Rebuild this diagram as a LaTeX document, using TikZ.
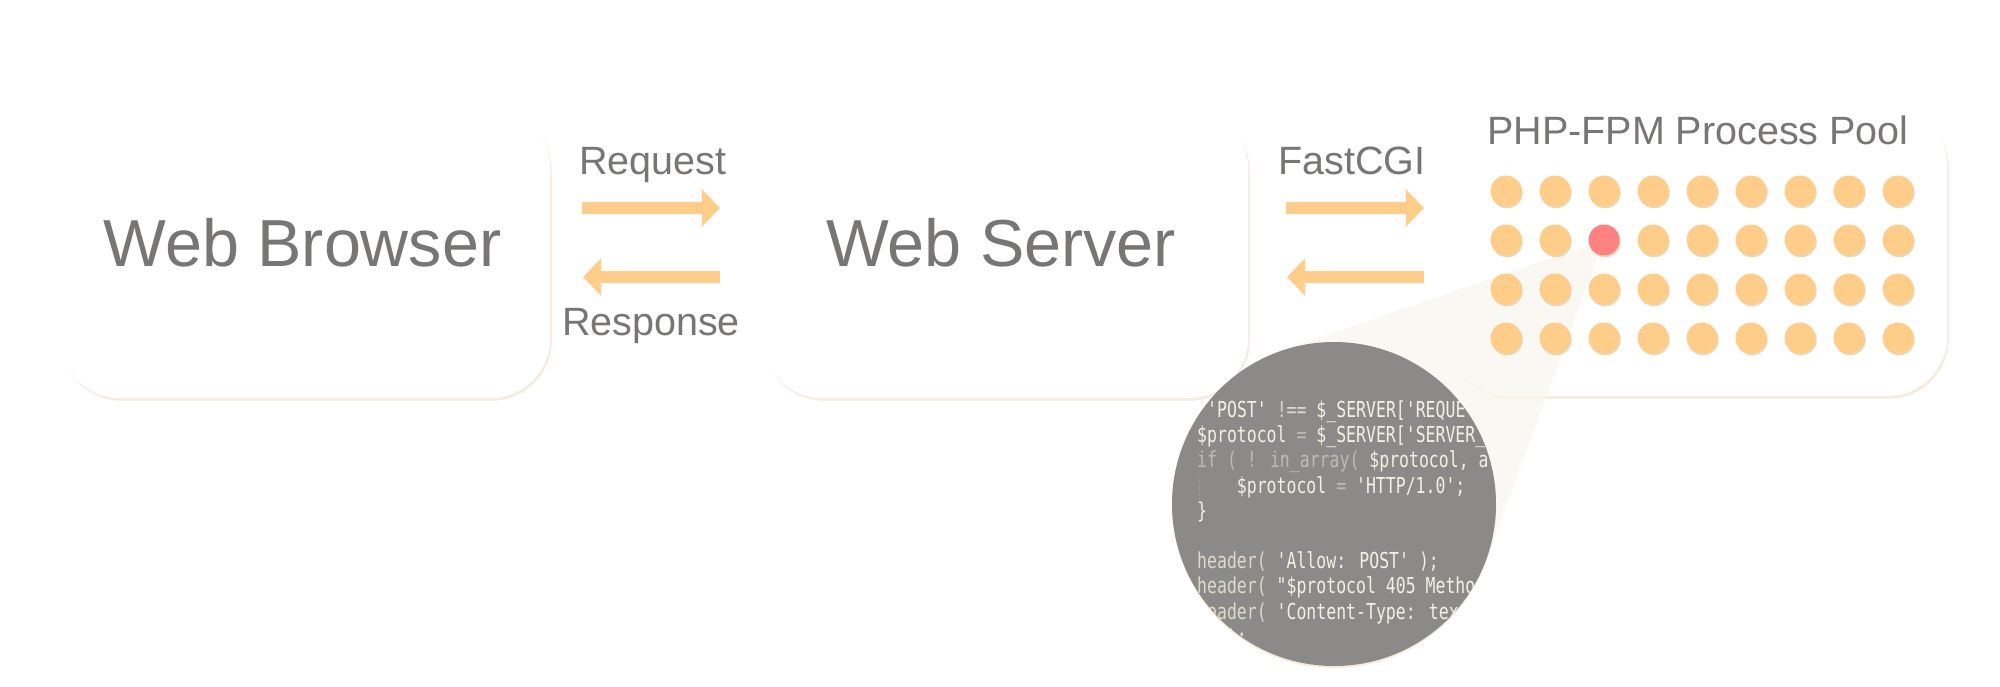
\documentclass[tikz,border=0pt]{standalone}
\usepackage{fontspec}
\setmainfont{Liberation Sans}
\newfontfamily\codefont[FakeStretch=0.75]{DejaVu Sans Mono}
\usetikzlibrary{arrows.meta,calc,shadows}
\definecolor{txtgray}{RGB}{120,118,116}
\definecolor{dotc}{RGB}{255,205,138}
\definecolor{dotred}{RGB}{255,130,130}
\definecolor{dotsh}{RGB}{230,205,160}
\definecolor{boxsh}{RGB}{244,236,220}
\definecolor{conec}{RGB}{249,246,238}
\definecolor{codebg}{RGB}{140,138,137}
\definecolor{codebr}{RGB}{245,240,228}
\definecolor{codemd}{RGB}{224,216,202}
\definecolor{codedm}{RGB}{192,186,178}
\definecolor{guidec}{RGB}{172,170,167}
\definecolor{arrc}{RGB}{255,205,138}
\newcommand\codesq{\char39\relax}
\newcommand\codedq{\char34\relax}
\begin{document}
\begin{tikzpicture}[x=1pt,y=-1pt,
  panel/.style={fill=white, rounded corners=60pt, inner sep=0pt, anchor=north west,
    drop shadow={shadow xshift=1.5pt, shadow yshift=-2.5pt, fill=boxsh, opacity=1}},
  dot/.style={circle, minimum size=31pt, inner sep=0pt,
    drop shadow={shadow xshift=1.2pt, shadow yshift=-1.8pt, fill=dotsh, opacity=0.8}},
  lbl/.style={text=txtgray, inner sep=0pt, anchor=base},
  biglbl/.style={lbl, font=\fontsize{66.5}{70}\selectfont},
  smalllbl/.style={lbl, font=\fontsize{39.5}{42}\selectfont},
  codeln/.style={text=codebr, inner sep=0pt, anchor=base west,
    font=\codefont\fontsize{22}{25}\selectfont},
  flow/.style={draw=arrc, line width=12pt, line cap=butt,
    -{Triangle[length=18pt,width=36pt]}},
  ]
\useasboundingbox (0,0) rectangle (2000,687);
\fill[white] (0,0) rectangle (2000,687);

% boxes
\node[panel, minimum width=490pt, minimum height=290pt] (browser) at (60,108) {};
\node[panel, minimum width=486pt, minimum height=290pt] (server) at (762,108) {};
\node[panel, minimum width=499pt, minimum height=291pt] (pool) at (1448,105) {};

% magnifier
\node[circle, minimum size=324pt, inner sep=0pt] (lens) at (1334,504) {};
\coordinate (apex) at (1604,240);
\fill[conec, opacity=0.75] (apex)
  -- (tangent cs:node=lens,point={(apex)},solution=1)
  -- (lens.center)
  -- (tangent cs:node=lens,point={(apex)},solution=2) -- cycle;
\fill[codebg, drop shadow={shadow xshift=0pt, shadow yshift=-2pt, fill=boxsh, opacity=1}]
  (lens.center) circle (162pt);
\begin{scope}
\clip (lens.center) circle (162pt);
\node[codeln] (c1) at (1207,417) {\codesq POST\codesq{} \textcolor{codemd}{!==} \$\_SERVER[\codesq REQUE};
\node[codeln] (c2) at (1197,442) {\$protocol \textcolor{codedm}{=} \$\_SERVER[\codesq SERVER\_};
\node[codeln] (c3) at (1197,467) {\textcolor{codedm}{if ( ! in\_array(} \$protocol, ar};
\node[codeln] (c4) at (1236.7,493) {\$protocol \textcolor{codedm}{=} \codesq HTTP/1.0\codesq;};
\node[codeln] (c5) at (1197,518) {\}};
\node[codeln] (c7) at (1197,568) {\textcolor{codemd}{header(} \codesq Allow: POST\codesq{} );};
\node[codeln] (c8) at (1197,593) {\textcolor{codemd}{header(} \codedq\$protocol 405 Metho};
\node[codeln] (c9) at (1197,619) {\textcolor{codemd}{header(} \codesq Content-Type: tex};
\node[codeln] (c10) at (1197,644) {exit;};
\coordinate (g1) at (1199,477);
\coordinate (g2) at (1199,499);
\draw[guidec, line width=1pt, dotted] (g1) -- (g2);
\end{scope}

% process dots
\foreach \i in {0,...,8}{\foreach \j in {0,...,3}{%
  \ifnum\numexpr\i*10+\j\relax=21 \def\dc{dotred}\else\def\dc{dotc}\fi
  \node[dot, fill=\dc] (d\i\j) at ({1506+49*\i},{191+49*\j}) {};
}}

% labels
\node[biglbl] (tbrowser) at (302.5,266) {Web Browser};
\node[biglbl] (tserver) at (1001,266) {Web Server};
\node[smalllbl] (treq) at (653,175) {Request};
\node[smalllbl] (tres) at (651,335) {Response};
\node[smalllbl] (tcgi) at (1352,175) {FastCGI};
\node[smalllbl] (tpool) at (1698,145) {PHP-FPM Process Pool};

% arrows
\coordinate (reqS) at (582,208);  \coordinate (reqE) at (720,208);
\coordinate (resS) at (720,277);  \coordinate (resE) at (583,277);
\coordinate (cgiS) at (1286,208); \coordinate (cgiE) at (1424,208);
\coordinate (retS) at (1424,277); \coordinate (retE) at (1287,277);
\draw[flow] (reqS) -- (reqE);
\draw[flow] (resS) -- (resE);
\draw[flow] (cgiS) -- (cgiE);
\draw[flow] (retS) -- (retE);
\end{tikzpicture}
\end{document}
